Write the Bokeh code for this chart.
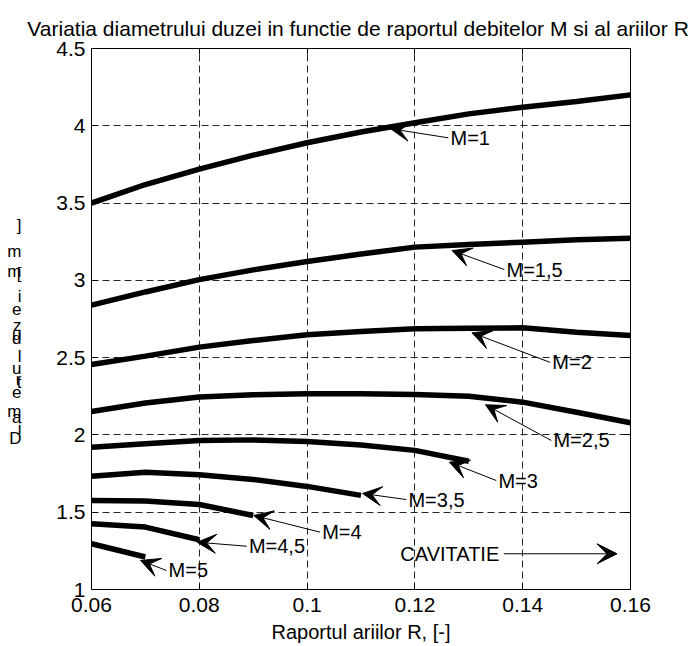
from bokeh.plotting import figure
from bokeh.models import (Range1d, FixedTicker, CustomJSTickFormatter, LinearAxis,
                          Label, Arrow, VeeHead, Title)
from bokeh.embed import file_html
from bokeh.resources import INLINE

# ---------------- data ----------------
R = [0.06, 0.07, 0.08, 0.09, 0.10, 0.11, 0.12, 0.13, 0.14, 0.15, 0.16]
D_M1 = [3.50, 3.62, 3.72, 3.81, 3.89, 3.96, 4.02, 4.077, 4.12, 4.157, 4.20]
D_M15 = [2.84, 2.925, 3.005, 3.068, 3.122, 3.17, 3.215, 3.232, 3.247, 3.262, 3.273]
D_M2 = [2.456, 2.51, 2.568, 2.611, 2.648, 2.669, 2.687, 2.69, 2.693, 2.665, 2.643]
D_M25 = [2.152, 2.206, 2.245, 2.26, 2.266, 2.266, 2.262, 2.25, 2.212, 2.147, 2.079]
D_M3 = [1.921, 1.943, 1.964, 1.968, 1.958, 1.935, 1.90, 1.83]
D_M35 = [1.733, 1.759, 1.742, 1.712, 1.667, 1.609]
D_M4 = [1.576, 1.572, 1.55, 1.479]
D_M45 = [1.426, 1.404, 1.322]
D_M5 = [1.296, 1.21]
series = [D_M1, D_M15, D_M2, D_M25, D_M3, D_M35, D_M4, D_M45, D_M5]

x_ticks = [0.06, 0.08, 0.10, 0.12, 0.14, 0.16]
y_ticks = [1, 1.5, 2, 2.5, 3, 3.5, 4, 4.5]

title_text = "Variatia diametrului  duzei in functie de raportul debitelor M si al ariilor R"
x_label = "Raportul ariilor R, [-]"
y_label = "Diametrul duzei [mm]"

# annotation: text, label (x, y), arrow tip (x, y)
annotations = [
    ("M=1",   0.1266, 3.922, 0.1155, 3.981),
    ("M=1,5", 0.1370, 3.070, 0.1269, 3.193),
    ("M=2",   0.1455, 2.469, 0.1306, 2.661),
    ("M=2,5", 0.1457, 1.964, 0.1331, 2.195),
    ("M=3",   0.1355, 1.705, 0.1264, 1.824),
    ("M=3,5", 0.1188, 1.582, 0.1103, 1.621),
    ("M=4",   0.1028, 1.371, 0.0901, 1.479),
    ("M=4,5", 0.0892, 1.280, 0.0796, 1.306),
    ("M=5",   0.0743, 1.123, 0.0691, 1.188),
]
cav_text = "CAVITATIE"

FONT = "Liberation Sans"
W, H = 697, 646
FL, FT, FB = 91, 48, 589   # frame left / top / bottom in page px
Y_PER_PX = 3.5 / (FB - FT)

p = figure(width=W, height=H, output_backend="svg", toolbar_location=None,
           x_range=Range1d(0.06, 0.16), y_range=Range1d(1, 4.5),
           min_border_left=FL, min_border_right=67, min_border_top=FT,
           min_border_bottom=H - FB)
p.background_fill_color = "white"
p.border_fill_color = "white"
p.outline_line_color = "black"
p.outline_line_width = 1

fmt = CustomJSTickFormatter(code="return String(Math.round(tick*1000)/1000);")
blank = CustomJSTickFormatter(code="return '';")

for ax in (p.xaxis[0], p.yaxis[0]):
    ax.major_tick_in = 6
    ax.major_tick_out = 0
    ax.minor_tick_line_color = None
    ax.axis_line_color = "black"
    ax.major_tick_line_color = "black"
    ax.major_label_text_font = FONT
    ax.major_label_text_font_size = "21px"
    ax.major_label_text_color = "black"
    ax.formatter = fmt
p.xaxis[0].ticker = FixedTicker(ticks=x_ticks)
p.yaxis[0].ticker = FixedTicker(ticks=y_ticks)
p.xaxis[0].major_label_standoff = 8
p.yaxis[0].major_label_standoff = 6
p.xaxis[0].axis_label = x_label
p.xaxis[0].axis_label_text_font = FONT
p.xaxis[0].axis_label_text_font_size = "20px"
p.xaxis[0].axis_label_text_font_style = "normal"
p.xaxis[0].axis_label_text_color = "black"
p.xaxis[0].axis_label_standoff = 6

# box ticks on top and right
top_ax = LinearAxis(ticker=FixedTicker(ticks=x_ticks), formatter=blank,
                    major_tick_in=6, major_tick_out=0, minor_tick_line_color=None,
                    major_label_text_font_size="0px", major_label_standoff=0)
right_ax = LinearAxis(ticker=FixedTicker(ticks=y_ticks), formatter=blank,
                      major_tick_in=6, major_tick_out=0, minor_tick_line_color=None,
                      major_label_text_font_size="0px", major_label_standoff=0)
p.add_layout(top_ax, "above")
p.add_layout(right_ax, "right")

# garbled vertical y label: characters stacked bottom-to-top (page px from top),
# drawn as labels of an extra left axis so they sit outside the frame
ylab_y_px = [438, 428, 417, 411, 392, 382, 379, 368, 356, None,
             338, 334, 325, 309, 296, None, 272.5, 271.5, 251, 225]
ylab_chars, ylab_vals = [], []
for ch, py in zip(y_label, ylab_y_px):
    if py is None or ch == " ":
        continue
    ylab_chars.append(ch)
    ylab_vals.append(round(4.5 - (py - FT) * Y_PER_PX, 6))
char_fmt = CustomJSTickFormatter(
    args=dict(vals=ylab_vals, chars=ylab_chars),
    code="""
    for (let i = 0; i < vals.length; i++) {
        if (Math.abs(vals[i] - tick) < 1e-6) return chars[i];
    }
    return '';
    """)
ylab_ax = LinearAxis(ticker=FixedTicker(ticks=ylab_vals), formatter=char_fmt,
                     axis_line_color=None, major_tick_line_color=None,
                     minor_tick_line_color=None, major_tick_in=0, major_tick_out=0,
                     major_label_standoff=32, major_label_text_font=FONT,
                     major_label_text_font_size="17px", major_label_text_color="black")
p.add_layout(ylab_ax, "left")

for g in (p.xgrid[0], p.ygrid[0]):
    g.grid_line_color = "black"
    g.grid_line_dash = "7 4"
    g.grid_line_alpha = 0.85
    g.grid_line_width = 1
p.xgrid[0].ticker = FixedTicker(ticks=x_ticks)
p.ygrid[0].ticker = FixedTicker(ticks=y_ticks)

p.title = Title(text=title_text, align="center", text_font=FONT,
                text_font_size="21px", text_font_style="normal",
                text_color="black", standoff=18)

for ys in series:
    p.line(R[:len(ys)], ys, line_width=5.5, line_color="black")

for txt, lx, ly, tx, ty in annotations:
    p.add_layout(Arrow(end=VeeHead(size=19, fill_color="black", line_color="black",
                                   line_width=1),
                       x_start=lx - 0.0004, y_start=ly, x_end=tx, y_end=ty,
                       line_width=1, line_color="black"))
    p.add_layout(Label(x=lx, y=ly, text=txt, text_align="left", text_baseline="middle",
                       text_font=FONT, text_font_size="20px", text_color="black"))

p.add_layout(Label(x=0.1173, y=1.231, text=cav_text, text_align="left",
                   text_baseline="middle", text_font=FONT, text_font_size="20px",
                   text_color="black"))
p.add_layout(Arrow(end=VeeHead(size=20, fill_color="black", line_color="black",
                               line_width=1),
                   x_start=0.1365, y_start=1.231, x_end=0.1575, y_end=1.231,
                   line_width=1, line_color="black"))

open("out.html", "w").write(file_html(p, INLINE))
